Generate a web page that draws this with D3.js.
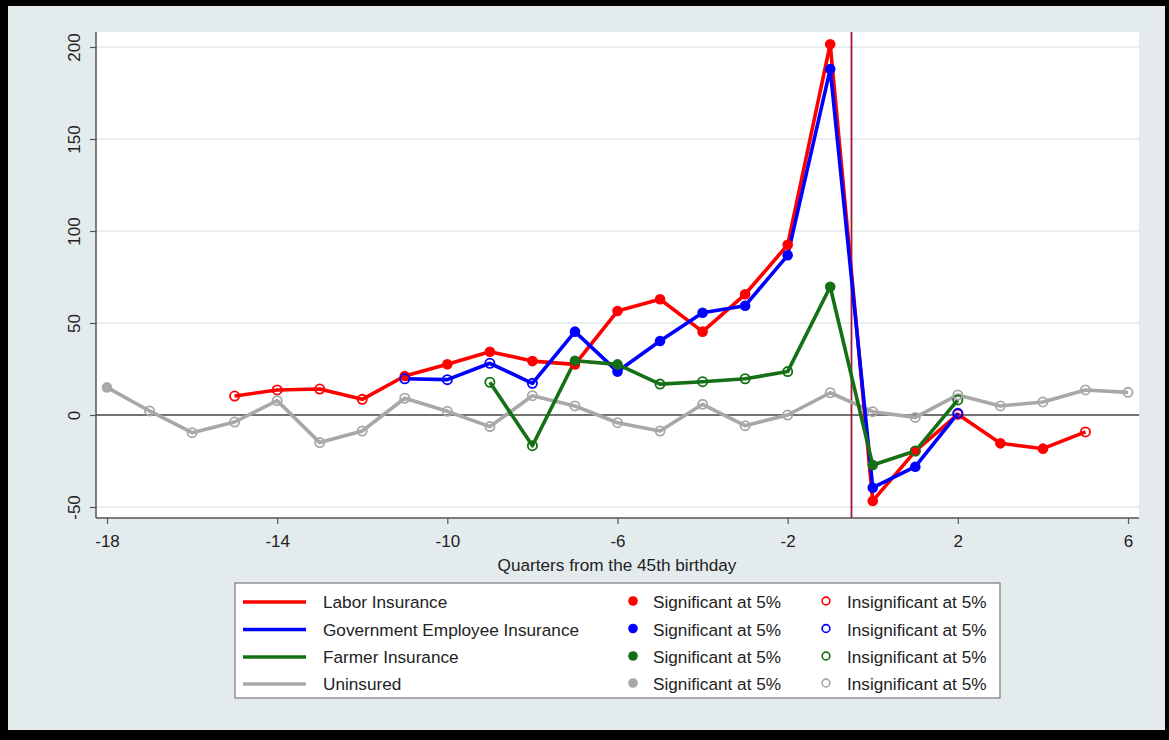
<!DOCTYPE html>
<html>
<head>
<meta charset="utf-8">
<script src="https://cdn.jsdelivr.net/npm/d3@7"></script>
<style>
  html, body { margin: 0; padding: 0; background: #000; }
  svg { display: block; }
  text { font-family: "Liberation Sans", Arial, Helvetica, sans-serif; fill: #222; }
</style>
</head>
<body>
<svg id="chart" width="1169" height="740"></svg>
<script>
// Quarters relative to the 45th birthday
const labourQuarters = [-15,-14,-13,-12,-11,-10,-9,-8,-7,-6,-5,-4,-3,-2,-1,0,1,2,3,4,5];
const labourValues   = [10.3,13.6,14.1,8.5,21.2,27.6,34.4,29.3,27.5,56.5,62.9,45.3,65.6,92.5,201.5,-46.7,-19.6,0.4,-15.4,-18.3,-9.2];
const labourSig      = [0,0,0,0,1,1,1,1,1,1,1,1,1,1,1,1,1,0,1,1,0];

const govQuarters = [-11,-10,-9,-8,-7,-6,-5,-4,-3,-2,-1,0,1,2];
const govValues   = [19.7,19.2,28.1,17.2,45.3,23.6,40.2,55.6,59.4,86.8,188,-39.5,-28.1,0.9];
const govSig      = [0,0,0,0,1,1,1,1,1,1,1,1,1,0];

const farmerQuarters = [-9,-8,-7,-6,-5,-4,-3,-2,-1,0,1,2];
const farmerValues   = [17.8,-16.7,29.5,27.5,16.8,18.1,19.7,23.6,69.7,-27.2,-19.6,8.2];
const farmerSig      = [0,0,1,1,0,0,0,0,1,1,0,0];

const uninsQuarters = [-18,-17,-16,-15,-14,-13,-12,-11,-10,-9,-8,-7,-6,-5,-4,-3,-2,-1,0,1,2,3,4,5,6];
const uninsValues   = [15.0,2.2,-9.6,-3.8,7.8,-15.0,-8.7,9.1,2.0,-6.3,10.5,4.9,-4.2,-8.7,5.8,-5.8,0,12.1,1.8,-1.3,10.9,4.9,7.1,13.6,12.3];
const uninsSig      = [1,0,0,0,0,0,0,0,0,0,0,0,0,0,0,0,0,0,0,0,0,0,0,0,0];

const seriesNames  = ["Labor Insurance","Government Employee Insurance","Farmer Insurance","Uninsured"];
const xTicks = [-18,-14,-10,-6,-2,2,6];
const yTicks = [-50,0,50,100,150,200];
const cutoff = -0.5;
const xTitle = "Quarters from the 45th birthday";
const sigLabel = "Significant at 5%";
const insigLabel = "Insignificant at 5%";

const colors = ["#ff0000","#0000ff","#157015","#a8a8a8"];

const series = [
  {name: seriesNames[0], q: labourQuarters, v: labourValues, s: labourSig, color: colors[0]},
  {name: seriesNames[1], q: govQuarters, v: govValues, s: govSig, color: colors[1]},
  {name: seriesNames[2], q: farmerQuarters, v: farmerValues, s: farmerSig, color: colors[2]},
  {name: seriesNames[3], q: uninsQuarters, v: uninsValues, s: uninsSig, color: colors[3]}
].map(d => ({...d, pts: d.q.map((q, i) => ({q, v: d.v[i], sig: d.s[i]}))}));

const svg = d3.select("#chart");
const plainNum = d => String(d);   // keep ASCII hyphen for negatives

// outer frame and graph background
svg.append("rect").attr("x",0).attr("y",0).attr("width",1169).attr("height",740).attr("fill","#000");
svg.append("rect").attr("x",8).attr("y",6).attr("width",1157).attr("height",724).attr("fill","#e4ebed");

const plot = {left: 96, right: 1139, top: 32, bottom: 518};
svg.append("rect").attr("x",plot.left).attr("y",plot.top)
   .attr("width",plot.right-plot.left).attr("height",plot.bottom-plot.top).attr("fill","#fff");

const x = d3.scaleLinear().domain([-18,6]).range([107,1128]);
const y = d3.scaleLinear().domain([-50,200]).range([507,47]);

// gridlines
svg.append("g").selectAll("line").data(yTicks.filter(t => t !== 0)).join("line")
  .attr("x1",plot.left).attr("x2",plot.right)
  .attr("y1",d => y(d)).attr("y2",d => y(d))
  .attr("stroke","#e6eef0").attr("stroke-width",2);

// y axis
const yAxis = svg.append("g").attr("transform",`translate(${plot.left},0)`)
  .call(d3.axisLeft(y).tickValues(yTicks).tickSize(6).tickSizeOuter(0).tickFormat(plainNum));
yAxis.select(".domain").attr("d",`M0,${plot.top}V${plot.bottom}`).attr("stroke","#555").attr("stroke-width",1.5);
yAxis.selectAll(".tick line").attr("stroke","#555").attr("stroke-width",1.2);
yAxis.selectAll(".tick text")
  .attr("x",0).attr("y",0).attr("dy",null)
  .attr("transform","translate(-16,0) rotate(-90)")
  .attr("text-anchor","middle")
  .style("font-size","17px").style("fill","#222")
  .attr("font-family","Liberation Sans, Arial, sans-serif");

// x axis
const xAxis = svg.append("g").attr("transform",`translate(0,${plot.bottom})`)
  .call(d3.axisBottom(x).tickValues(xTicks).tickSize(6).tickSizeOuter(0).tickFormat(plainNum));
xAxis.select(".domain").attr("d",`M${plot.left},0H${plot.right}`).attr("stroke","#555").attr("stroke-width",1.5);
xAxis.selectAll(".tick line").attr("stroke","#555").attr("stroke-width",1.2);
xAxis.selectAll(".tick text").attr("y",29).attr("dy",null)
  .style("font-size","17px").style("fill","#222")
  .attr("font-family","Liberation Sans, Arial, sans-serif");

svg.append("text").attr("x",617).attr("y",571).attr("text-anchor","middle")
  .style("font-size","17.2px").text(xTitle);

// zero reference line
svg.append("line").attr("x1",plot.left).attr("x2",plot.right)
  .attr("y1",y(0)).attr("y2",y(0)).attr("stroke","#444").attr("stroke-width",1.6);

// cutoff line at the birthday
svg.append("line").attr("x1",x(cutoff)).attr("x2",x(cutoff))
  .attr("y1",plot.top).attr("y2",plot.bottom).attr("stroke","#9e1a35").attr("stroke-width",1.8);

const line = d3.line().x(d => x(d.q)).y(d => y(d.v));

const lineOrder = [3,0,1,2];
lineOrder.forEach(i => {
  svg.append("path").datum(series[i].pts).attr("d",line)
    .attr("fill","none").attr("stroke",series[i].color)
    .attr("stroke-width",3.6).attr("stroke-linejoin","round");
});

const markerOrder = [0,1,2,3];
markerOrder.forEach(i => {
  const s = series[i];
  const g = svg.append("g");
  g.selectAll("circle.sig").data(s.pts.filter(p => p.sig)).join("circle")
    .attr("class","sig").attr("cx",d => x(d.q)).attr("cy",d => y(d.v)).attr("r",5.3)
    .attr("fill",s.color);
  g.selectAll("circle.ins").data(s.pts.filter(p => !p.sig)).join("circle")
    .attr("class","ins").attr("cx",d => x(d.q)).attr("cy",d => y(d.v)).attr("r",4.6)
    .attr("fill","none").attr("stroke",s.color).attr("stroke-width",1.8);
});

// legend
const lg = svg.append("g");
lg.append("rect").attr("x",235).attr("y",583).attr("width",765).attr("height",115)
  .attr("fill","#fff").attr("stroke","#7a7a7a").attr("stroke-width",1.2);
const rowY = [602,629.5,657,684];
series.forEach((s, i) => {
  const cy = rowY[i];
  lg.append("line").attr("x1",243).attr("x2",306).attr("y1",cy).attr("y2",cy)
    .attr("stroke",s.color).attr("stroke-width",3.6);
  lg.append("text").attr("x",323).attr("y",cy+6).style("font-size","17.2px").text(s.name);
  lg.append("circle").attr("cx",633).attr("cy",cy-1).attr("r",4.8).attr("fill",s.color);
  lg.append("text").attr("x",653).attr("y",cy+6).style("font-size","17.2px").text(sigLabel);
  lg.append("circle").attr("cx",826).attr("cy",cy-1).attr("r",3.9)
    .attr("fill","none").attr("stroke",s.color).attr("stroke-width",1.6);
  lg.append("text").attr("x",847).attr("y",cy+6).style("font-size","17.2px").text(insigLabel);
});
</script>
</body>
</html>
